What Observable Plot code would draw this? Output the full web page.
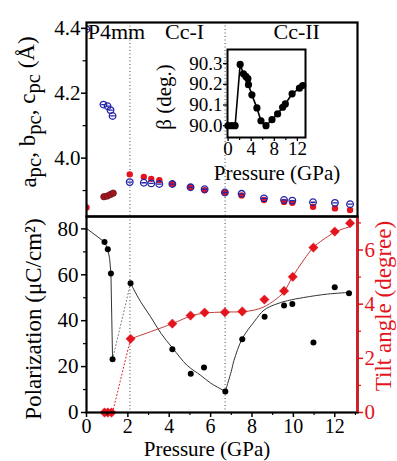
<!DOCTYPE html>
<html><head><meta charset="utf-8">
<script src="https://cdn.jsdelivr.net/npm/d3@7"></script>
<script src="https://cdn.jsdelivr.net/npm/@observablehq/plot@0.6"></script>
<style>
body{margin:0;background:#fff;}
#chart{position:relative;width:397px;height:461px;font-family:"Liberation Serif","DejaVu Serif",serif;}
#chart svg{position:absolute;left:0;top:0;}
#chart svg text{font-family:"Liberation Serif","DejaVu Serif",serif;}
</style></head><body><div id="chart"></div>
<script>
// ---------- data ----------
// top panel: pseudo-cubic lattice parameters (Å)
const aP = [0, 2.09, 2.77, 3.13, 3.52, 4.15, 5.03, 5.71, 6.69, 7.5, 8.58, 9.55, 9.95, 10.95, 12.01, 12.74];
const aV = [3.848, 3.950, 3.942, 3.936, 3.932, 3.920, 3.910, 3.901, 3.893, 3.885, 3.871, 3.865, 3.862, 3.850, 3.845, 3.840];
const abP = [0.84, 1.0, 1.16, 1.29];
const abV = [3.881, 3.883, 3.888, 3.892];
const cP = [0, 0.82, 1.02, 1.16, 1.26, 2.09, 2.77, 3.13, 3.52, 4.15, 5.03, 5.71, 6.69, 7.5, 8.58, 9.55, 9.95, 10.95, 12.01, 12.74];
const cV = [4.397, 4.165, 4.160, 4.148, 4.130, 3.926, 3.924, 3.922, 3.920, 3.920, 3.910, 3.904, 3.894, 3.890, 3.876, 3.871, 3.869, 3.864, 3.862, 3.858];
const latTicks = [4.0, 4.2, 4.4];
const latMinor = [3.9, 4.1, 4.3];
const phaseNames = ["P4mm", "Cc-I", "Cc-II"];
const phaseNameP = [1.45, 4.74, 10.16];
const phaseBoundaries = [2.1, 6.7];

// inset: monoclinic angle beta
const betaP = [0, 0.64, 1.22, 2.09, 2.66, 3.08, 3.43, 3.53, 4.12, 4.99, 5.69, 6.56, 7.6, 8.57, 9.44, 9.91, 11.08, 12.35, 12.92];
const betaV = [90.0, 90.0, 90.0, 90.296, 90.251, 90.238, 90.227, 90.198, 90.149, 90.086, 90.024, 90.0, 90.029, 90.057, 90.089, 90.105, 90.154, 90.181, 90.194];
const betaTicks = [90.0, 90.1, 90.2, 90.3];
const insetXTicks = [0, 4, 8, 12];
const insetXMinor = [2, 6, 10];

// bottom panel: polarization (µC/cm²) and tilt angle (degree)
const polP = [0.87, 1.03, 1.18, 1.26, 2.13, 4.15, 5.04, 5.68, 6.71, 7.53, 8.61, 9.55, 9.95, 10.97, 12.0, 12.69];
const polV = [74.3, 71.1, 60.6, 23.2, 56.3, 27.6, 16.9, 19.6, 9.2, 31.9, 41.7, 46.6, 47.3, 30.5, 54.6, 52.0];
const tiltP = [0.87, 1.03, 1.21, 2.13, 4.15, 5.03, 5.71, 6.69, 7.53, 8.6, 9.55, 9.97, 10.97, 12.0, 12.74];
const tiltV = [0, 0, 0, 2.72, 3.28, 3.58, 3.69, 3.70, 3.73, 4.17, 4.49, 5.01, 6.09, 6.68, 6.99];
// guide curves
const dropP = [0, 0.87, 1.03, 1.12, 1.18, 1.22, 1.26];
const dropV = [80.2, 74.3, 71.1, 67.0, 60.6, 42.0, 23.2];
const decayP = [2.13, 2.6, 3.1, 3.6, 4.15, 4.87, 5.52, 6.0, 6.71];
const decayV = [56.3, 48.5, 41.7, 34.5, 28.2, 20.5, 16.2, 12.8, 9.2];
const riseP = [6.71, 7.0, 7.13, 7.53, 8.1, 8.58, 9.1, 9.71, 10.5, 11.65, 12.69];
const riseV = [9.2, 18.0, 22.7, 32.2, 39.5, 44.6, 47.0, 48.7, 50.1, 51.6, 52.3];
const tiltFitP = [2.13, 4.15, 5.03, 5.71, 6.69, 7.53, 8.1, 8.58, 9.1, 9.55, 9.95, 10.5, 11.0, 11.65, 12.05, 12.74];
const tiltFitV = [2.72, 3.28, 3.56, 3.67, 3.71, 3.72, 3.78, 3.9, 4.15, 4.46, 5.0, 5.63, 6.12, 6.49, 6.68, 6.86];
const transP = [1.26, 2.13];
const transPol = [23.2, 56.3];
const transTilt = [0, 2.72];
const pressureTicks = [0, 2, 4, 6, 8, 10, 12];
const pressureMinor = [1, 3, 5, 7, 9, 11, 13];
const polTicks = [0, 20, 40, 60, 80];
const polMinor = [10, 30, 50, 70];
const tiltTicks = [0, 2, 4, 6];
const tiltMinor = [1, 3, 5, 7];

// ---------- build ----------
const zip = (P, V) => P.map((p, i) => ({p, v: V[i]}));
const W = 397, H = 461;
const FONT = '"Liberation Serif", "DejaVu Serif", serif';
const RED = "#e3141c", BLUE = "#2323a8";
const xDomain = [0, 13.1];
const K = 11.8; // polarization units per degree of tilt (right axis)
const style = {background: "transparent", overflow: "visible", fontFamily: FONT, fontSize: "21px", color: "black"};
const insetStyle = {...style, fontSize: "19px"};
const dotted = {stroke: "#444", strokeWidth: 1, strokeDasharray: "1,2.5"};
const theta = {draw(ctx, size) {
  const r = Math.sqrt(size / Math.PI);
  ctx.moveTo(r, 0); ctx.arc(0, 0, r, 0, 2 * Math.PI);
  ctx.moveTo(-r * 0.7, 0); ctx.lineTo(r * 0.7, 0);
}};
const none = () => "";

const topPlot = Plot.plot({
  width: W, height: H, marginLeft: 86, marginRight: 40, marginTop: 22, marginBottom: 245,
  style,
  x: {domain: xDomain, axis: null},
  y: {domain: [3.82, 4.418]},
  marks: [
    Plot.ruleX(phaseBoundaries, dotted),
    Plot.dot(zip(aP, aV), {x: "p", y: "v", r: 3.2, fill: RED, clip: true}),
    Plot.dot(zip(abP, abV), {x: "p", y: "v", r: 3.2, fill: "#a3161c", stroke: "#6a1420", strokeWidth: 0.8}),
    Plot.dot(zip(cP, cV), {x: "p", y: "v", r: 3.3, stroke: BLUE, strokeWidth: 1.3, fill: "none", symbol: theta, clip: true}),
    Plot.text(phaseNames.map((n, i) => ({n, p: phaseNameP[i]})), {x: "p", text: "n", frameAnchor: "top", lineAnchor: "top", dy: 1, fontSize: 22}),
    Plot.axisY({ticks: latTicks, tickSize: 5, tickPadding: 1, strokeWidth: 1.5, tickFormat: d3.format(".1f"), label: null}),
    Plot.axisY({ticks: latMinor, tickSize: 3.5, strokeWidth: 1.2, tickFormat: none, label: null}),
    Plot.frame({strokeWidth: 2.2})
  ]
});

const bottomPlot = Plot.plot({
  width: W, height: H, marginLeft: 86, marginRight: 40, marginTop: 216, marginBottom: 49,
  style,
  x: {domain: xDomain},
  y: {domain: [0, 85.4]},
  marks: [
    Plot.ruleX(phaseBoundaries, dotted),
    Plot.line(zip(transP, transPol), {x: "p", y: "v", stroke: "#777", strokeWidth: 1, strokeDasharray: "1,2.5"}),
    Plot.line(zip(transP, transTilt), {x: "p", y: d => d.v * K, stroke: RED, strokeWidth: 1, strokeDasharray: "1,2.5"}),
    Plot.line(zip(dropP, dropV), {x: "p", y: "v", stroke: "#333", strokeWidth: 1}),
    Plot.line(zip(decayP, decayV), {x: "p", y: "v", stroke: "#333", strokeWidth: 1, curve: "catmull-rom"}),
    Plot.line(zip(riseP, riseV), {x: "p", y: "v", stroke: "#333", strokeWidth: 1, curve: "catmull-rom"}),
    Plot.line(zip(tiltFitP, tiltFitV), {x: "p", y: d => d.v * K, stroke: "#c23a3a", strokeWidth: 1, curve: "catmull-rom"}),
    Plot.dot(zip(polP, polV), {x: "p", y: "v", r: 3, fill: "black"}),
    Plot.dot(zip(tiltP, tiltV), {x: "p", y: d => d.v * K, r: 4.2, symbol: "diamond2", fill: RED, stroke: RED, strokeWidth: 0.5}),
    Plot.axisX({ticks: pressureTicks, tickSize: 5, tickPadding: 1, strokeWidth: 1.5, fontSize: 20, label: null}),
    Plot.axisX({ticks: pressureMinor, tickSize: 3, strokeWidth: 1.2, tickFormat: none, label: null}),
    Plot.axisY({ticks: polTicks, anchor: "left", tickSize: 5, tickPadding: 3, strokeWidth: 1.5, label: null}),
    Plot.axisY({ticks: polMinor, anchor: "left", tickSize: 3, strokeWidth: 1.2, tickFormat: none, label: null}),
    Plot.axisY({ticks: tiltTicks.map(t => t * K), anchor: "right", color: RED, tickSize: 5, tickPadding: 2, strokeWidth: 1.5, tickFormat: d => String(Math.round(d / K)), label: null}),
    Plot.axisY({ticks: tiltMinor.map(t => t * K), anchor: "right", color: RED, tickSize: 3, strokeWidth: 1.2, tickFormat: none, label: null}),
    Plot.frame({strokeWidth: 2.2}),
    Plot.ruleX([xDomain[1]], {stroke: RED, strokeWidth: 2.4})
  ]
});

const insetPlot = Plot.plot({
  width: W, height: H, marginLeft: 227, marginRight: 92, marginTop: 49, marginBottom: 324,
  style: insetStyle,
  x: {domain: [-0.1, 13.4]},
  y: {domain: [89.943, 90.368]},
  marks: [
    Plot.line(zip(betaP, betaV), {x: "p", y: "v", stroke: "black", strokeWidth: 1.6}),
    Plot.dot(zip(betaP, betaV), {x: "p", y: "v", r: 3.6, fill: "black"}),
    Plot.axisX({ticks: insetXTicks, tickSize: 4, tickPadding: 0, strokeWidth: 1.3, label: null}),
    Plot.axisX({ticks: insetXMinor, tickSize: 3, strokeWidth: 1.2, tickFormat: none, label: null}),
    Plot.axisY({ticks: betaTicks, tickSize: 4, tickPadding: 1, strokeWidth: 1.3, tickFormat: d3.format(".1f"), label: null}),
    Plot.frame({strokeWidth: 2})
  ]
});

const root = document.getElementById("chart");
root.append(bottomPlot, topPlot, insetPlot);

// ---------- axis titles (real SVG text) ----------
function title(svg, x, y, parts, {rotate = 0, size = 23, fill = "black"} = {}) {
  const t = d3.select(svg).append("text")
    .attr("x", x).attr("y", y)
    .attr("text-anchor", "middle")
    .attr("font-size", size).attr("fill", fill)
    .attr("transform", rotate ? `rotate(${rotate},${x},${y})` : null);
  for (const p of parts) {
    const s = t.append("tspan").text(p.t);
    if (p.sub) s.attr("font-size", size * 0.9).attr("dy", "0.25em");
    if (p.back) s.attr("dy", "-0.25em");
  }
}
title(topPlot, 36, 112, [
  {t: "a"}, {t: "pc", sub: true}, {t: ", b", back: true}, {t: "pc", sub: true},
  {t: ", c", back: true}, {t: "pc", sub: true}, {t: " (Å)", back: true}
], {rotate: -90});
title(bottomPlot, 41, 319, [{t: "Polarization (μC/cm²)"}], {rotate: -90});
title(bottomPlot, 391, 306, [{t: "Tilt angle (degree)"}], {rotate: -90, fill: RED});
title(bottomPlot, 207, 455.5, [{t: "Pressure (GPa)"}], {size: 21});
title(insetPlot, 171, 97, [{t: "β (deg.)"}], {rotate: -90, size: 21});
title(insetPlot, 277, 180, [{t: "Pressure (GPa)"}], {size: 21});
</script>
</body></html>
